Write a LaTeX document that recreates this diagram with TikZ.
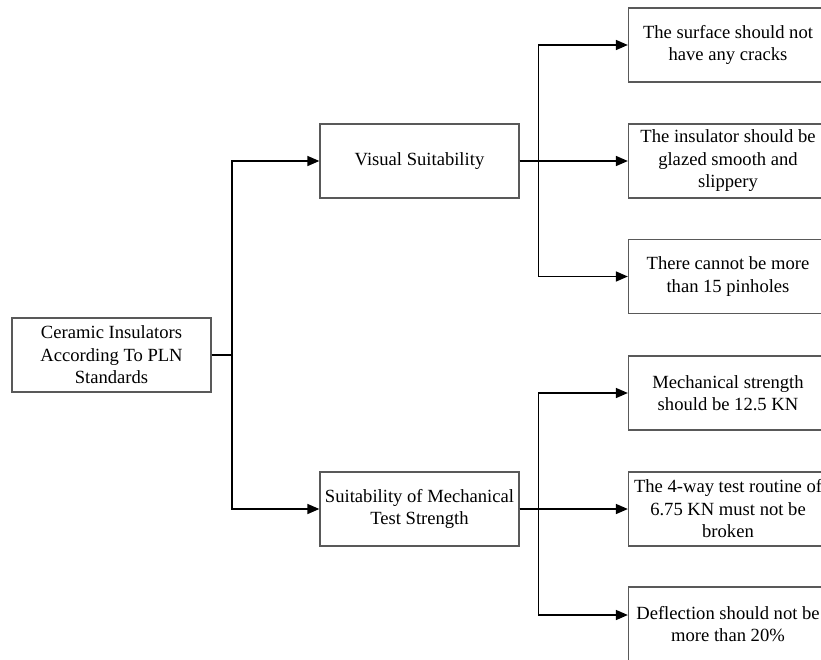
\documentclass[tikz,border=0pt]{standalone}
\usepackage{fontspec}
\setmainfont{Liberation Serif}
\usetikzlibrary{arrows.meta}
\begin{document}
\begin{tikzpicture}[x=1pt,y=-1pt,
  box/.style={draw=black!65, line width=1.3pt, fill=white, minimum width=199pt, minimum height=74pt,
    align=center, inner sep=2pt, font=\fontsize{18.6}{22.5}\selectfont},
  conn/.style={line width=1.6pt, draw=black},
  arr/.style={conn, -{Triangle[length=12pt,width=10pt]}}]
\useasboundingbox (0,0) rectangle (821,659);
\clip (0,0) rectangle (821,659);
\node[box] (root) at (111.5,355) {Ceramic Insulators\\According To PLN\\Standards};
\node[box] (vis) at (419.5,161) {Visual Suitability};
\node[box] (mech) at (419.5,509) {Suitability of Mechanical\\Test Strength};
\node[box] (r1) at (728,45) {The surface should not\\have any cracks};
\node[box] (r2) at (728,161) {The insulator should be\\glazed smooth and\\slippery};
\node[box] (r3) at (728,276.5) {There cannot be more\\than 15 pinholes};
\node[box] (r4) at (728,393) {Mechanical strength\\should be 12.5 KN};
\node[box] (r5) at (728,509) {The 4-way test routine of\\6.75 KN must not be\\broken};
\node[box] (r6) at (728,624) {Deflection should not be\\more than 20\%};
\draw[arr] (root.east) -- ++(20.5,0) |- (vis.west);
\draw[arr] (root.east) -- ++(20.5,0) |- (mech.west);
\draw[arr] (vis.east) -- ++(19,0) |- (r1.west);
\draw[arr] (vis.east) -- (r2.west);
\draw[arr] (vis.east) -- ++(19,0) |- (r3.west);
\draw[arr] (mech.east) -- ++(19,0) |- (r4.west);
\draw[arr] (mech.east) -- (r5.west);
\draw[arr] (mech.east) -- ++(19,0) |- ([yshift=9pt]r6.west);
\end{tikzpicture}
\end{document}
